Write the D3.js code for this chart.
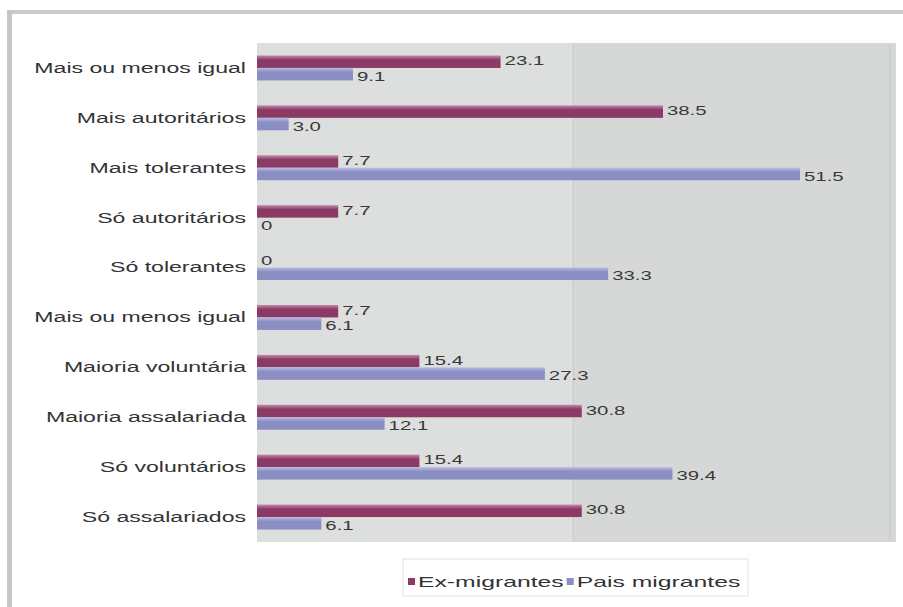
<!DOCTYPE html>
<html>
<head>
<meta charset="utf-8">
<script src="https://cdn.jsdelivr.net/npm/d3@7"></script>
<style>
  body { margin: 0; background: #fff; }
  svg text { font-family: "Liberation Sans", Arial, sans-serif; }
</style>
</head>
<body>
<div id="chart"></div>
<script>
// categories and values
const categories = [
  "Mais ou menos igual", "Mais autoritários", "Mais tolerantes", "Só autoritários", "Só tolerantes",
  "Mais ou menos igual", "Maioria voluntária", "Maioria assalariada", "Só voluntários", "Só assalariados"
];
const exMigrantes = [23.1, 38.5, 7.7, 7.7, 0, 7.7, 15.4, 30.8, 15.4, 30.8];
const paisMigrantes = [9.1, 3.0, 51.5, 0, 33.3, 6.1, 27.3, 12.1, 39.4, 6.1];
const seriesNames = ["Ex-migrantes", "Pais migrantes"];
const gridValues = [30, 60];

var width = 903,
    height = 607;
var plot = { left: 257, right: 896, top: 43, bottom: 542 };
var stretch = 1.65; // the text in the picture is stretched sideways

var svg = d3.select("#chart")
  .append("svg")
    .attr("width", width)
    .attr("height", height);

var defs = svg.append("defs");
function gradient(id, light, dark) {
  var g = defs.append("linearGradient").attr("id", id)
    .attr("x1", 0).attr("y1", 0).attr("x2", 0).attr("y2", 1);
  g.append("stop").attr("offset", "0%").attr("stop-color", light);
  g.append("stop").attr("offset", "35%").attr("stop-color", dark);
  g.append("stop").attr("offset", "100%").attr("stop-color", dark);
}
gradient("gRed", "#c48aa8", "#8b3a66");
gradient("gBlue", "#b9bce0", "#8a8ec2");
var fills = ["url(#gRed)", "url(#gBlue)"];
var swatch = ["#8b3a66", "#8a8ec2"];

// outer frame
svg.append("rect").attr("x", 7).attr("y", 10).attr("width", width - 7).attr("height", 4).attr("fill", "#cacaca");
svg.append("rect").attr("x", 7).attr("y", 10).attr("width", 5).attr("height", height - 10).attr("fill", "#c6c6c6");

var x = d3.scaleLinear().domain([0, 60.6]).range([plot.left, plot.right]);
var y = d3.scaleBand().domain(d3.range(categories.length))
  .range([plot.top, plot.bottom]).paddingInner(0.5).paddingOuter(0.25);
var sub = d3.scaleBand().domain([0, 1]).range([0, y.bandwidth()]);

// plot background, two shades split at the grid line
svg.append("rect").attr("x", plot.left).attr("y", plot.top)
  .attr("width", x(30) - plot.left).attr("height", plot.bottom - plot.top).attr("fill", "#dddede");
svg.append("rect").attr("x", x(30)).attr("y", plot.top)
  .attr("width", plot.right - x(30)).attr("height", plot.bottom - plot.top).attr("fill", "#d6d8d8");
svg.selectAll(".grid").data(gridValues).enter().append("line")
  .attr("x1", d => x(d)).attr("x2", d => x(d))
  .attr("y1", plot.top).attr("y2", plot.bottom)
  .attr("stroke", "#cccece").attr("stroke-width", 1.5);

// category labels
svg.selectAll(".cat").data(categories).enter().append("text")
  .attr("transform", (d, i) => "translate(246," + (y(i) + y.bandwidth() / 2) + ") scale(" + stretch + ",1)")
  .attr("text-anchor", "end")
  .attr("dy", "0.35em")
  .attr("font-size", 14)
  .attr("fill", "#333")
  .text(d => d);

// bars
var series = [exMigrantes, paisMigrantes];
series.forEach(function(vals, s) {
  var g = svg.append("g");
  g.selectAll("rect").data(vals).enter().append("rect")
    .attr("x", x(0))
    .attr("y", (d, i) => y(i) + sub(s))
    .attr("width", d => x(d) - x(0))
    .attr("height", sub.bandwidth())
    .attr("fill", fills[s]);
  g.selectAll("text").data(vals).enter().append("text")
    .attr("transform", (d, i) => "translate(" + (x(d) + 4) + "," + (y(i) + sub(s) + sub.bandwidth() / 2 + (s ? 2 : -1)) + ") scale(" + (stretch * 0.95) + ",1)")
    .attr("dy", "0.35em")
    .attr("font-size", 13)
    .attr("fill", "#383838")
    .text(d => d === 0 ? "0" : d.toFixed(1));
});

// legend
var legend = svg.append("g");
legend.append("rect").attr("x", 403).attr("y", 559).attr("width", 345).attr("height", 37)
  .attr("fill", "#fff").attr("stroke", "#e2e2e2");
var lx = 408;
seriesNames.forEach(function(name, s) {
  legend.append("rect").attr("x", lx).attr("y", 578).attr("width", 7).attr("height", 7).attr("fill", swatch[s]);
  var t = legend.append("text")
    .attr("transform", "translate(" + (lx + 10) + ",582) scale(" + stretch + ",1)")
    .attr("dy", "0.35em")
    .attr("font-size", 15)
    .attr("fill", "#333")
    .text(name);
  lx += 10 + t.node().getComputedTextLength() * stretch + 3;
});
</script>
</body>
</html>
